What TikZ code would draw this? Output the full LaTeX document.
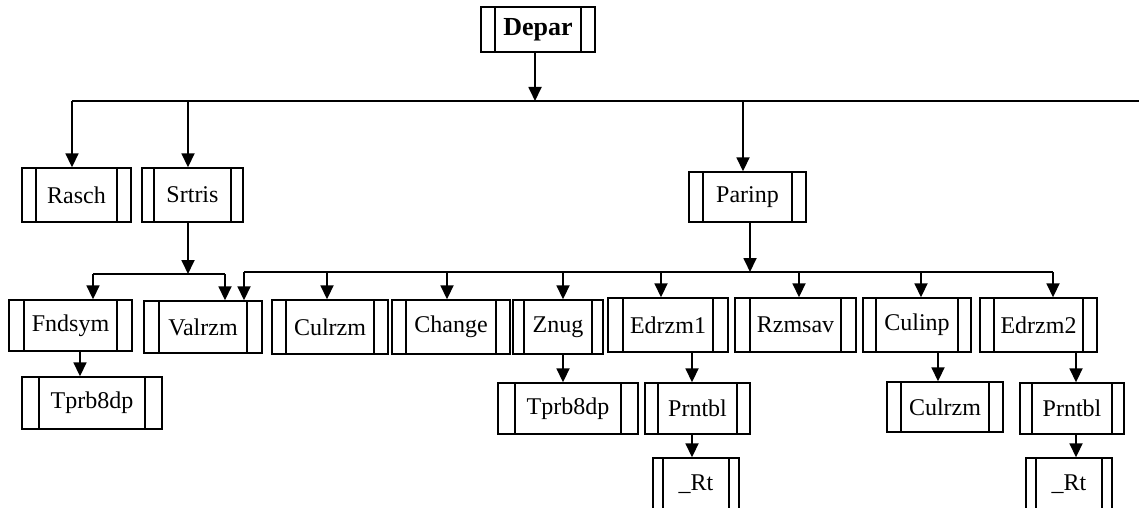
\documentclass[tikz,border=0pt]{standalone}
\usepackage{fontspec}
\setmainfont{Liberation Serif}
\usetikzlibrary{arrows.meta}
\tikzset{
  proc/.style={draw, line width=0.7pt, rectangle, inner sep=0pt,
    font=\fontsize{12}{14}\selectfont,
    path picture={\draw[line width=0.7pt]
      ([xshift=#1*0.5pt]path picture bounding box.north west) -- ([xshift=#1*0.5pt]path picture bounding box.south west)
      ([xshift=-#1*0.5pt]path picture bounding box.north east) -- ([xshift=-#1*0.5pt]path picture bounding box.south east);}},
  wh/.style 2 args={minimum width=#1*0.5pt, minimum height=#2*0.5pt},
  arr/.style={line width=0.9pt, -{Triangle[width=6.5pt,length=7pt]}},
  ln/.style={line width=0.9pt}
}
\begin{document}
\begin{tikzpicture}[x=0.5pt,y=-0.5pt]
\clip (0,0) rectangle (1139,508);
\fill[white] (0,0) rectangle (1139,508);
% boxes
\node[proc=14, wh={114}{45}, font=\fontsize{13}{15}\selectfont\bfseries] (depar) at (538,29.5) {Depar};
\node[proc=14, wh={109}{54}] (rasch) at (76.5,195) {Rasch};
\node[proc=12, wh={101}{54}] (srtris) at (192.5,195) {Srtris};
\node[proc=14, wh={117}{50}] (parinp) at (747.5,197) {Parinp};
\node[proc=15, wh={123}{51}] (fndsym) at (70.5,325.5) {Fndsym};
\node[proc=15, wh={118}{52}] (valrzm) at (203,327) {Valrzm};
\node[proc=14, wh={116}{54}] (culrzm) at (330,327) {Culrzm};
\node[proc=14, wh={118}{54}] (change) at (451,327) {Change};
\node[proc=11, wh={90}{54}] (znug) at (558,327) {Znug};
\node[proc=15, wh={120}{54}] (edrzm1) at (668,325) {Edrzm1};
\node[proc=15, wh={121}{54}] (rzmsav) at (795.5,325) {Rzmsav};
\node[proc=13, wh={108}{54}] (culinp) at (917,325) {Culinp};
\node[proc=14, wh={117}{54}] (edrzm2) at (1038.5,325) {Edrzm2};
\node[proc=17, wh={140}{52}] (tprbA) at (92,403) {Tprb8dp};
\node[proc=17, wh={140}{51}] (tprbB) at (568,408.5) {Tprb8dp};
\node[proc=13, wh={105}{51}] (prntblA) at (697.5,408.5) {Prntbl};
\node[proc=10, wh={86}{52}] (rtA) at (696,484) {\_Rt};
\node[proc=14, wh={116}{50}] (culrzmB) at (945,407) {Culrzm};
\node[proc=12, wh={104}{51}] (prntblB) at (1072,408.5) {Prntbl};
\node[proc=10, wh={86}{52}] (rtB) at (1069,484) {\_Rt};
% top level bus
\coordinate (tL) at (72,101);
\coordinate (tS) at (188,101);
\coordinate (tD) at (535,101);
\coordinate (tP) at (743,101);
\coordinate (tR) at (1139,101);
\draw[ln] (tL) -- (tR);
\draw[arr] (depar.south -| tD) -- (tD);
\draw[arr] (tL) -- (tL |- rasch.north);
\draw[arr] (tS) -- (tS |- srtris.north);
\draw[arr] (tP) -- (tP |- parinp.north);
% Srtris bus
\coordinate (sJ) at (188,274);
\coordinate (sL) at (93,274);
\coordinate (sR) at (225,274);
\draw[arr] (srtris.south -| sJ) -- (sJ);
\draw[ln] (sL) -- (sR);
\draw[arr] (sL) -- (sL |- fndsym.north);
\draw[arr] (sR) -- (sR |- valrzm.north);
\coordinate (fA) at (80,0);
\draw[arr] (fndsym.south -| fA) -- (tprbA.north -| fA);
% Parinp bus
\coordinate (pJ) at (750,272);
\coordinate (p1) at (244,272);
\coordinate (p2) at (327,272);
\coordinate (p3) at (447,272);
\coordinate (p4) at (563,272);
\coordinate (p5) at (661,272);
\coordinate (p6) at (799,272);
\coordinate (p7) at (921,272);
\coordinate (p8) at (1053,272);
\draw[arr] (parinp.south -| pJ) -- (pJ);
\draw[ln] (p1) -- (p8);
\draw[arr] (p1) -- (p1 |- valrzm.north);
\draw[arr] (p2) -- (p2 |- culrzm.north);
\draw[arr] (p3) -- (p3 |- change.north);
\draw[arr] (p4) -- (p4 |- znug.north);
\draw[arr] (p5) -- (p5 |- edrzm1.north);
\draw[arr] (p6) -- (p6 |- rzmsav.north);
\draw[arr] (p7) -- (p7 |- culinp.north);
\draw[arr] (p8) -- (p8 |- edrzm2.north);
% lower links
\coordinate (zA) at (563,0);
\coordinate (eA) at (692,0);
\coordinate (cA) at (938,0);
\coordinate (eB) at (1076,0);
\draw[arr] (znug.south -| zA) -- (tprbB.north -| zA);
\draw[arr] (edrzm1.south -| eA) -- (prntblA.north -| eA);
\draw[arr] (prntblA.south -| eA) -- (rtA.north -| eA);
\draw[arr] (culinp.south -| cA) -- (culrzmB.north -| cA);
\draw[arr] (edrzm2.south -| eB) -- (prntblB.north -| eB);
\draw[arr] (prntblB.south -| eB) -- (rtB.north -| eB);
\end{tikzpicture}
\end{document}
